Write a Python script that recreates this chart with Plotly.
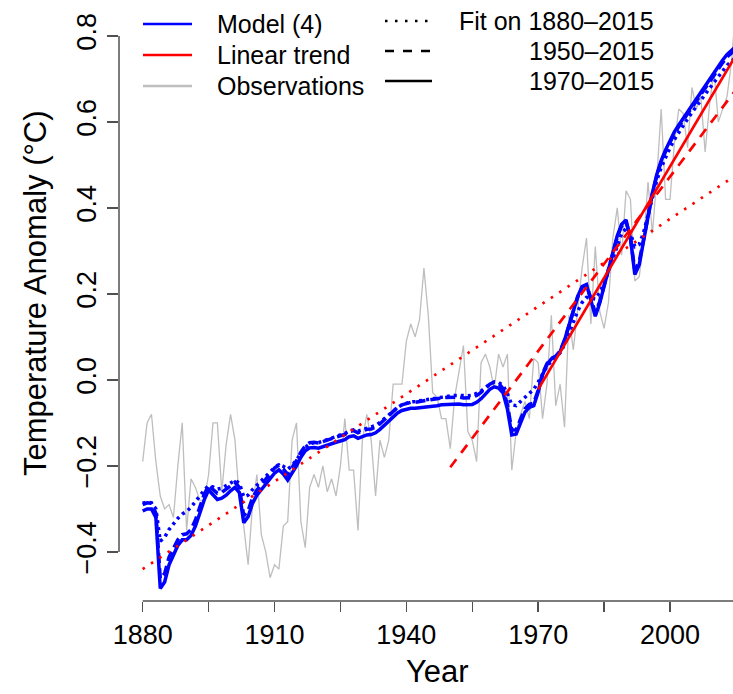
import plotly.graph_objects as go

# ---------------- data ----------------
years = list(range(1880, 2016))

observations = [
    -0.19, -0.10, -0.08, -0.19, -0.27, -0.30, -0.29, -0.32, -0.20, -0.10,   # 1880s
    -0.35, -0.23, -0.25, -0.28, -0.28, -0.22, -0.10, -0.10, -0.26, -0.15,   # 1890s
    -0.08, -0.14, -0.28, -0.34, -0.43, -0.29, -0.22, -0.36, -0.40, -0.46,   # 1900s
    -0.43, -0.44, -0.34, -0.33, -0.14, -0.10, -0.33, -0.39, -0.25, -0.22,   # 1910s
    -0.25, -0.20, -0.26, -0.23, -0.27, -0.20, -0.09, -0.21, -0.21, -0.35,   # 1920s
    -0.14, -0.08, -0.14, -0.27, -0.14, -0.18, -0.14, -0.01, -0.01, -0.01,   # 1930s
    0.09, 0.13, 0.10, 0.14, 0.26, 0.15, -0.03, -0.04, -0.09, -0.09,         # 1940s
    -0.16, -0.04, 0.02, 0.08, -0.12, -0.14, -0.19, 0.04, 0.06, 0.03,        # 1950s
    -0.02, 0.06, 0.03, 0.06, -0.21, -0.12, -0.08, -0.05, -0.09, 0.05,       # 1960s
    0.04, -0.09, -0.01, 0.15, -0.06, -0.01, -0.11, 0.15, 0.07, 0.16,        # 1970s
    0.26, 0.33, 0.13, 0.31, 0.16, 0.12, 0.18, 0.33, 0.40, 0.29,             # 1980s
    0.44, 0.42, 0.23, 0.24, 0.32, 0.46, 0.34, 0.47, 0.63, 0.42,             # 1990s
    0.42, 0.55, 0.63, 0.62, 0.54, 0.68, 0.63, 0.66, 0.53, 0.64,             # 2000s
    0.72, 0.60, 0.63, 0.66, 0.74, 0.87,                                     # 2010s
]

# Model (4) fitted on 1880-2015 (dotted)
model_fit_1880 = [
    -0.287, -0.284, -0.286, -0.300, -0.375, -0.366, -0.348, -0.334, -0.322, -0.312,
    -0.306, -0.296, -0.284, -0.270, -0.256, -0.246, -0.249, -0.254, -0.252, -0.247,
    -0.240, -0.234, -0.240, -0.272, -0.268, -0.255, -0.245, -0.236, -0.226, -0.215,
    -0.204, -0.197, -0.201, -0.208, -0.199, -0.186, -0.170, -0.157, -0.149, -0.146,
    -0.146, -0.142, -0.138, -0.134, -0.131, -0.128, -0.125, -0.119, -0.116, -0.119,
    -0.116, -0.112, -0.110, -0.106, -0.099, -0.090, -0.081, -0.072, -0.064, -0.058,
    -0.054, -0.051, -0.050, -0.049, -0.047, -0.046, -0.044, -0.042, -0.040, -0.039,
    -0.037, -0.036, -0.036, -0.037, -0.037, -0.036, -0.032, -0.026, -0.018, -0.010,
    -0.005, -0.006, -0.013, -0.032, -0.058, -0.060, -0.050, -0.040, -0.032, -0.022,
    -0.005, 0.015, 0.032, 0.044, 0.052, 0.063, 0.082, 0.108, 0.135, 0.160,
    0.180, 0.192, 0.190, 0.188, 0.203, 0.225, 0.253, 0.283, 0.316, 0.340,
    0.352, 0.340, 0.310, 0.315, 0.343, 0.385, 0.427, 0.464, 0.494, 0.518,
    0.540, 0.559, 0.576, 0.592, 0.607, 0.622, 0.637, 0.651, 0.664, 0.678,
    0.692, 0.706, 0.720, 0.732, 0.741, 0.750,
]

# Model (4) fitted on 1950-2015 (dashed)
model_fit_1950 = [
    -0.290, -0.286, -0.287, -0.310, -0.462, -0.450, -0.412, -0.390, -0.372, -0.360,
    -0.358, -0.348, -0.326, -0.296, -0.266, -0.246, -0.255, -0.264, -0.262, -0.255,
    -0.246, -0.238, -0.250, -0.316, -0.304, -0.274, -0.256, -0.244, -0.232, -0.219,
    -0.205, -0.198, -0.207, -0.220, -0.205, -0.188, -0.168, -0.153, -0.146, -0.145,
    -0.147, -0.143, -0.139, -0.135, -0.133, -0.130, -0.127, -0.120, -0.118, -0.123,
    -0.119, -0.115, -0.114, -0.110, -0.102, -0.092, -0.082, -0.072, -0.064, -0.058,
    -0.054, -0.052, -0.052, -0.050, -0.049, -0.048, -0.046, -0.044, -0.042, -0.041,
    -0.040, -0.039, -0.040, -0.042, -0.042, -0.041, -0.036, -0.029, -0.019, -0.010,
    -0.005, -0.008, -0.020, -0.058, -0.117, -0.116, -0.091, -0.067, -0.057, -0.054,
    -0.024, 0.014, 0.038, 0.050, 0.055, 0.067, 0.093, 0.125, 0.160, 0.193,
    0.215, 0.220, 0.190, 0.156, 0.182, 0.220, 0.256, 0.289, 0.332, 0.358,
    0.367, 0.330, 0.255, 0.275, 0.328, 0.385, 0.433, 0.475, 0.507, 0.531,
    0.553, 0.573, 0.589, 0.604, 0.620, 0.636, 0.651, 0.665, 0.679, 0.694,
    0.709, 0.724, 0.738, 0.751, 0.760, 0.769,
]

# Model (4) fitted on 1970-2015 (solid)
model_fit_1970 = [
    -0.305, -0.300, -0.300, -0.320, -0.485, -0.470, -0.430, -0.405, -0.385, -0.372,
    -0.372, -0.362, -0.340, -0.310, -0.279, -0.256, -0.268, -0.278, -0.275, -0.268,
    -0.258, -0.250, -0.262, -0.332, -0.318, -0.287, -0.268, -0.256, -0.244, -0.231,
    -0.217, -0.209, -0.219, -0.233, -0.217, -0.200, -0.180, -0.165, -0.158, -0.157,
    -0.159, -0.155, -0.151, -0.147, -0.145, -0.142, -0.139, -0.132, -0.130, -0.136,
    -0.132, -0.128, -0.127, -0.123, -0.115, -0.105, -0.095, -0.085, -0.077, -0.071,
    -0.068, -0.066, -0.066, -0.065, -0.064, -0.064, -0.062, -0.060, -0.058, -0.057,
    -0.056, -0.055, -0.056, -0.058, -0.058, -0.057, -0.052, -0.044, -0.033, -0.022,
    -0.016, -0.019, -0.030, -0.068, -0.128, -0.126, -0.100, -0.075, -0.064, -0.060,
    -0.028, 0.012, 0.036, 0.049, 0.054, 0.066, 0.092, 0.124, 0.160, 0.194,
    0.217, 0.222, 0.185, 0.148, 0.178, 0.218, 0.256, 0.290, 0.335, 0.362,
    0.372, 0.330, 0.245, 0.268, 0.325, 0.385, 0.435, 0.478, 0.510, 0.535,
    0.557, 0.577, 0.593, 0.608, 0.624, 0.640, 0.656, 0.670, 0.684, 0.699,
    0.714, 0.729, 0.744, 0.757, 0.766, 0.775,
]

# Linear trends: fit period start/end years and fitted values at the ends
trend_start_year = [1880, 1950, 1970]
trend_end_year = [2015, 2015, 2015]
trend_start_value = [-0.440, -0.203, -0.022]
trend_end_value = [0.476, 0.675, 0.755]

x_tick_values = [1880, 1895, 1910, 1925, 1940, 1955, 1970, 1985, 2000, 2015]
x_tick_labels = ["1880", "", "1910", "", "1940", "", "1970", "", "2000", ""]
y_tick_values = [-0.4, -0.2, 0.0, 0.2, 0.4, 0.6, 0.8]
y_tick_labels = ["\u22120.4", "\u22120.2", "0.0", "0.2", "0.4", "0.6", "0.8"]

# ---------------- styling ----------------
W, H = 733, 694
ML, MR, MT, MB = 119, 0, 0, 694 - 601
PW, PH = W - ML - MR, H - MT - MB
FONT = "Liberation Sans, Arial, Helvetica, sans-serif"
BLUE, RED, GRAY = "#0000FF", "#FF0000", "#BEBEBE"
AXC = "#505050"


def px_x(px):
    """page pixel x -> paper coordinate"""
    return (px - ML) / PW


def px_y(py):
    """page pixel y -> paper coordinate"""
    return (MT + PH - py) / PH


fig = go.Figure()

fig.add_trace(go.Scatter(x=years, y=observations, mode="lines",
                         line=dict(color=GRAY, width=1.3), showlegend=False))

model_styles = [(model_fit_1880, "3px,4px"), (model_fit_1950, "10px,5px"),
                (model_fit_1970, "solid")]
for series, dash in model_styles:
    fig.add_trace(go.Scatter(x=years, y=series, mode="lines",
                             line=dict(color=BLUE, width=3.5, dash=dash),
                             showlegend=False))

trend_dashes = ["2.5px,7.5px", "10px,8px", "solid"]
for i in range(3):
    fig.add_trace(go.Scatter(x=[trend_start_year[i], trend_end_year[i]],
                             y=[trend_start_value[i], trend_end_value[i]],
                             mode="lines",
                             line=dict(color=RED, width=2.7, dash=trend_dashes[i]),
                             showlegend=False))

shapes = [
    # R-style axis lines spanning first..last tick
    dict(type="line", xref="x", yref="paper", x0=1880, x1=2015, y0=0, y1=0,
         line=dict(color=AXC, width=1.5)),
    dict(type="line", xref="paper", yref="y", x0=0, x1=0, y0=-0.4, y1=0.8,
         line=dict(color=AXC, width=1.5)),
]
annotations = []

# left legend block
left_items = [("Model (4)", BLUE, 24), ("Linear trend", RED, 55), ("Observations", GRAY, 86)]
for label, col, py in left_items:
    shapes.append(dict(type="line", xref="paper", yref="paper",
                       x0=px_x(143), x1=px_x(192), y0=px_y(py), y1=px_y(py),
                       line=dict(color=col, width=2.7)))
    annotations.append(dict(text=label, xref="paper", yref="paper",
                            x=px_x(215), y=px_y(py), xanchor="left", yanchor="middle",
                            showarrow=False, font=dict(family=FONT, size=25, color="black")))

# right legend block
right_items = [("Fit on 1880\u20132015", "2.5px,7.5px", 21),
               ("1950\u20132015", "9px,9px", 51),
               ("1970\u20132015", "solid", 81)]
for label, dash, py in right_items:
    shapes.append(dict(type="line", xref="paper", yref="paper",
                       x0=px_x(385), x1=px_x(432), y0=px_y(py), y1=px_y(py),
                       line=dict(color="black", width=2.5, dash=dash)))
    annotations.append(dict(text=label, xref="paper", yref="paper",
                            x=px_x(656), y=px_y(py), xanchor="right", yanchor="middle",
                            showarrow=False, font=dict(family=FONT, size=25, color="black")))

# axis titles
annotations.append(dict(text="Year", xref="paper", yref="paper",
                        x=px_x(437), y=px_y(672), xanchor="center", yanchor="middle",
                        showarrow=False, font=dict(family=FONT, size=31, color="black")))
annotations.append(dict(text="Temperature Anomaly (\u00b0C)", xref="paper", yref="paper",
                        x=px_x(35), y=px_y(293), xanchor="center", yanchor="middle",
                        textangle=-90, showarrow=False,
                        font=dict(family=FONT, size=31, color="black")))

fig.update_layout(
    width=W, height=H,
    margin=dict(l=ML, r=MR, t=MT, b=MB, pad=0),
    paper_bgcolor="white", plot_bgcolor="white",
    font=dict(family=FONT, color="black"),
    showlegend=False, hovermode=False,
    shapes=shapes, annotations=annotations,
    xaxis=dict(range=[1874.61, 2014.34], tickmode="array",
               tickvals=x_tick_values, ticktext=x_tick_labels,
               ticks="outside", ticklen=10, tickwidth=1.5, tickcolor=AXC,
               showgrid=False, zeroline=False, showline=False,
               tickfont=dict(family=FONT, size=27, color="black")),
    yaxis=dict(range=[-0.5142, 379.9 / 430.0], tickmode="array",
               tickvals=y_tick_values, ticktext=y_tick_labels,
               ticks="outside", ticklen=11, tickwidth=1.5, tickcolor=AXC,
               tickangle=-90,
               showgrid=False, zeroline=False, showline=False,
               tickfont=dict(family=FONT, size=27, color="black")),
)

# remove the default 8px page margin so the 733x694 figure fills the window
fig.write_html("out.html",
               config={"displayModeBar": False, "staticPlot": True},
               post_script="document.body.style.margin='0';"
                           "document.body.style.overflow='hidden';")
